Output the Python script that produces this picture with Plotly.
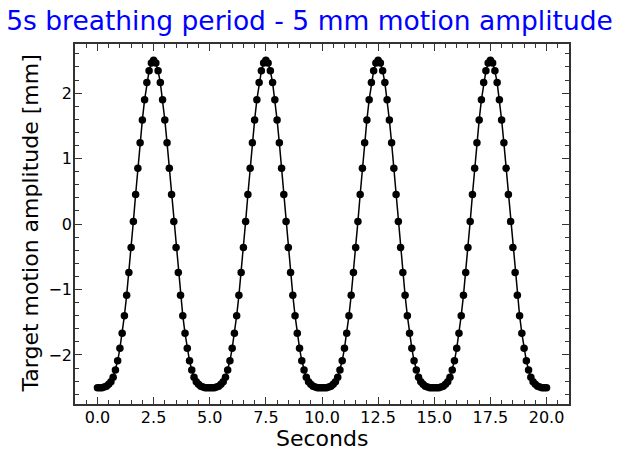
import numpy as np
import plotly.graph_objects as go

# Sample times in seconds (0.1 s sampling over 20 s)
time_s = np.linspace(0.0, 20.0, 201)

# Target position [mm], four 5 s breathing cycles
amplitude_mm = [
    -2.50, -2.50, -2.50, -2.49, -2.48, -2.45, -2.41, -2.34, -2.23, -2.09,
    -1.90, -1.67, -1.40, -1.09, -0.74, -0.36, 0.04, 0.45, 0.85, 1.24,
    1.59, 1.90, 2.16, 2.34, 2.46, 2.50, 2.46, 2.34, 2.16, 1.90,
    1.59, 1.24, 0.85, 0.45, 0.04, -0.36, -0.74, -1.09, -1.40, -1.67,
    -1.90, -2.09, -2.23, -2.34, -2.41, -2.45, -2.48, -2.49, -2.50, -2.50,
    -2.50, -2.50, -2.50, -2.49, -2.48, -2.45, -2.41, -2.34, -2.23, -2.09,
    -1.90, -1.67, -1.40, -1.09, -0.74, -0.36, 0.04, 0.45, 0.85, 1.24,
    1.59, 1.90, 2.16, 2.34, 2.46, 2.50, 2.46, 2.34, 2.16, 1.90,
    1.59, 1.24, 0.85, 0.45, 0.04, -0.36, -0.74, -1.09, -1.40, -1.67,
    -1.90, -2.09, -2.23, -2.34, -2.41, -2.45, -2.48, -2.49, -2.50, -2.50,
    -2.50, -2.50, -2.50, -2.49, -2.48, -2.45, -2.41, -2.34, -2.23, -2.09,
    -1.90, -1.67, -1.40, -1.09, -0.74, -0.36, 0.04, 0.45, 0.85, 1.24,
    1.59, 1.90, 2.16, 2.34, 2.46, 2.50, 2.46, 2.34, 2.16, 1.90,
    1.59, 1.24, 0.85, 0.45, 0.04, -0.36, -0.74, -1.09, -1.40, -1.67,
    -1.90, -2.09, -2.23, -2.34, -2.41, -2.45, -2.48, -2.49, -2.50, -2.50,
    -2.50, -2.50, -2.50, -2.49, -2.48, -2.45, -2.41, -2.34, -2.23, -2.09,
    -1.90, -1.67, -1.40, -1.09, -0.74, -0.36, 0.04, 0.45, 0.85, 1.24,
    1.59, 1.90, 2.16, 2.34, 2.46, 2.50, 2.46, 2.34, 2.16, 1.90,
    1.59, 1.24, 0.85, 0.45, 0.04, -0.36, -0.74, -1.09, -1.40, -1.67,
    -1.90, -2.09, -2.23, -2.34, -2.41, -2.45, -2.48, -2.49, -2.50, -2.50,
    -2.50,
]

x_ticks = [0.0, 2.5, 5.0, 7.5, 10.0, 12.5, 15.0, 17.5, 20.0]
y_ticks = [-2, -1, 0, 1, 2]

FONT = "DejaVu Sans"
AXIS_COLOR = "#333333"

fig = go.Figure()
fig.add_trace(go.Scatter(
    x=time_s,
    y=amplitude_mm,
    mode="lines+markers",
    line=dict(color="black", width=1.5),
    marker=dict(color="black", size=7.5),
    showlegend=False,
))

axis_common = dict(
    automargin=False,
    showgrid=False,
    zeroline=False,
    showline=True,
    linecolor=AXIS_COLOR,
    linewidth=1.5,
    mirror="ticks",
    ticks="inside",
    ticklen=7,
    tickwidth=1.2,
    tickcolor=AXIS_COLOR,
    ticklabelstandoff=-2,
    tickfont=dict(family=FONT, size=16, color="black"),
)

fig.update_xaxes(
    **axis_common,
    range=[-1.0, 21.0],
    tickvals=x_ticks,
    tickformat=".1f",
    minor=dict(ticks="inside", dtick=0.5, tick0=0, ticklen=4, tickwidth=1, tickcolor=AXIS_COLOR),
)
fig.update_yaxes(
    **axis_common,
    range=[-2.75, 2.75],
    tickvals=y_ticks,
    minor=dict(ticks="inside", dtick=0.2, tick0=0, ticklen=4, tickwidth=1, tickcolor=AXIS_COLOR),
)

# Axis titles placed as paper-anchored annotations
fig.add_annotation(
    text="Seconds", xref="paper", yref="paper", x=0.5, y=-0.0958,
    xanchor="center", yanchor="middle", showarrow=False, borderpad=0,
    font=dict(family=FONT, size=22, color="black"),
)
fig.add_annotation(
    text="Target motion amplitude [mm]", xref="paper", yref="paper",
    x=-0.0921, y=0.5, xanchor="center", yanchor="middle", textangle=-90,
    showarrow=False, borderpad=0, font=dict(family=FONT, size=22, color="black"),
)

fig.update_layout(
    width=619,
    height=451,
    margin=dict(l=75, r=50, t=44, b=47),
    paper_bgcolor="white",
    plot_bgcolor="white",
    title=dict(
        text="5s breathing period - 5 mm motion amplitude",
        font=dict(family=FONT, size=26.5, color="blue"),
        x=0.5, xanchor="center", y=0.955, yanchor="middle",
    ),
)

fig.write_html("out.html")
